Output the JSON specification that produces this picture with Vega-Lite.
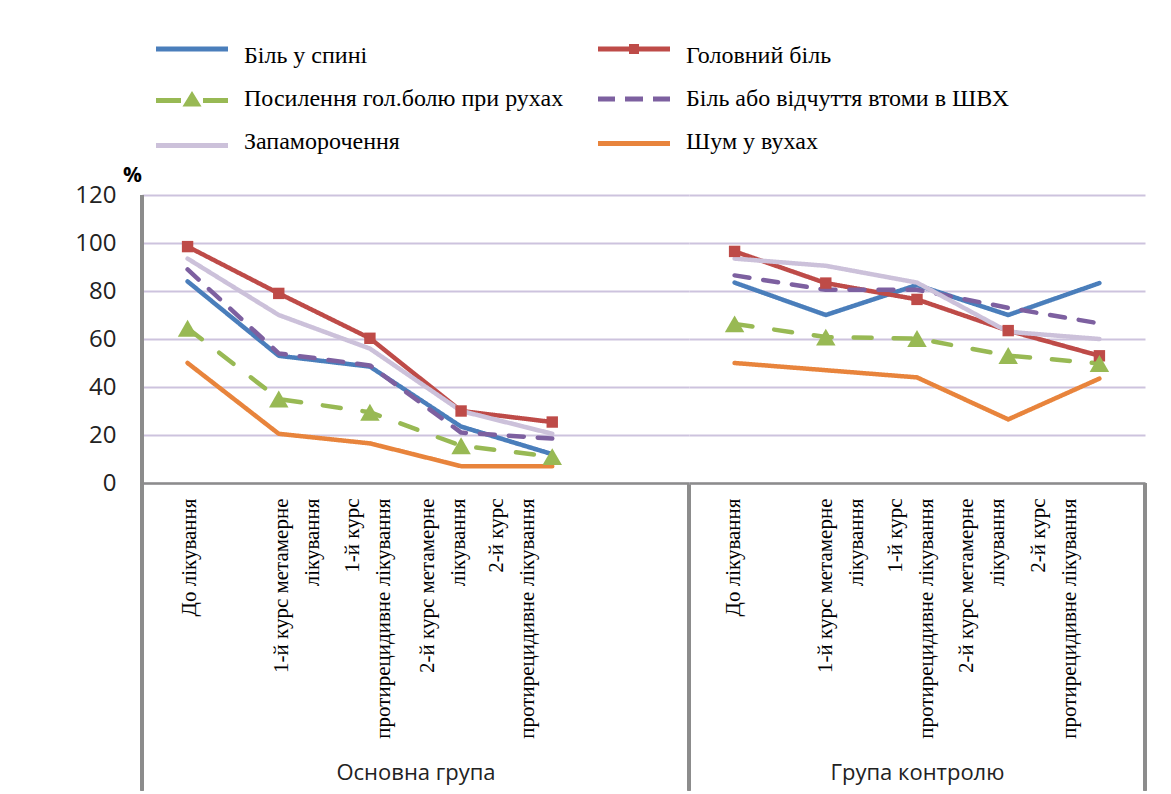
{
  "$schema": "https://vega.github.io/schema/vega-lite/v6.json",
  "padding": {"left": 74, "top": 44, "right": 10, "bottom": 0},
  "spacing": 0,
  "bounds": "flush",
  "config": {
    "view": {"stroke": null},
    "legend": {
      "orient": "none", "legendX": 38, "legendY": -151, "columns": 2, "direction": "horizontal",
      "labelFont": "Liberation Serif", "labelFontSize": 24, "labelFontWeight": "normal", "labelColor": "#000", "labelLimit": 600, "labelOffset": 40,
      "symbolSize": 400, "symbolStrokeWidth": 0, "symbolOpacity": 1, "rowPadding": 19, "columnPadding": 34, "padding": 0
    }
  },
  "datasets": {
    "d": [
      {"group": "Основна група", "series": "Біль у спині", "stage": "До лікування", "value": 84},
      {"group": "Основна група", "series": "Біль у спині", "stage": "1-й курс метамерне|лікування", "value": 53},
      {"group": "Основна група", "series": "Біль у спині", "stage": "1-й курс|протирецидивне лікування", "value": 48.5},
      {"group": "Основна група", "series": "Біль у спині", "stage": "2-й курс метамерне|лікування", "value": 23.5},
      {"group": "Основна група", "series": "Біль у спині", "stage": "2-й курс|протирецидивне лікування", "value": 12},
      {"group": "Основна група", "series": "Головний біль", "stage": "До лікування", "value": 98.5},
      {"group": "Основна група", "series": "Головний біль", "stage": "1-й курс метамерне|лікування", "value": 79},
      {"group": "Основна група", "series": "Головний біль", "stage": "1-й курс|протирецидивне лікування", "value": 60.3},
      {"group": "Основна група", "series": "Головний біль", "stage": "2-й курс метамерне|лікування", "value": 30},
      {"group": "Основна група", "series": "Головний біль", "stage": "2-й курс|протирецидивне лікування", "value": 25.4},
      {"group": "Основна група", "series": "Посилення гол.болю при рухах", "stage": "До лікування", "value": 64.5},
      {"group": "Основна група", "series": "Посилення гол.болю при рухах", "stage": "1-й курс метамерне|лікування", "value": 35},
      {"group": "Основна група", "series": "Посилення гол.болю при рухах", "stage": "1-й курс|протирецидивне лікування", "value": 29.5},
      {"group": "Основна група", "series": "Посилення гол.болю при рухах", "stage": "2-й курс метамерне|лікування", "value": 15.5},
      {"group": "Основна група", "series": "Посилення гол.болю при рухах", "stage": "2-й курс|протирецидивне лікування", "value": 11},
      {"group": "Основна група", "series": "Біль або відчуття втоми в ШВХ", "stage": "До лікування", "value": 89},
      {"group": "Основна група", "series": "Біль або відчуття втоми в ШВХ", "stage": "1-й курс метамерне|лікування", "value": 54},
      {"group": "Основна група", "series": "Біль або відчуття втоми в ШВХ", "stage": "1-й курс|протирецидивне лікування", "value": 49},
      {"group": "Основна група", "series": "Біль або відчуття втоми в ШВХ", "stage": "2-й курс метамерне|лікування", "value": 21},
      {"group": "Основна група", "series": "Біль або відчуття втоми в ШВХ", "stage": "2-й курс|протирецидивне лікування", "value": 18.5},
      {"group": "Основна група", "series": "Запаморочення", "stage": "До лікування", "value": 93.5},
      {"group": "Основна група", "series": "Запаморочення", "stage": "1-й курс метамерне|лікування", "value": 70},
      {"group": "Основна група", "series": "Запаморочення", "stage": "1-й курс|протирецидивне лікування", "value": 56},
      {"group": "Основна група", "series": "Запаморочення", "stage": "2-й курс метамерне|лікування", "value": 30},
      {"group": "Основна група", "series": "Запаморочення", "stage": "2-й курс|протирецидивне лікування", "value": 20.5},
      {"group": "Основна група", "series": "Шум у вухах", "stage": "До лікування", "value": 50},
      {"group": "Основна група", "series": "Шум у вухах", "stage": "1-й курс метамерне|лікування", "value": 20.5},
      {"group": "Основна група", "series": "Шум у вухах", "stage": "1-й курс|протирецидивне лікування", "value": 16.5},
      {"group": "Основна група", "series": "Шум у вухах", "stage": "2-й курс метамерне|лікування", "value": 7},
      {"group": "Основна група", "series": "Шум у вухах", "stage": "2-й курс|протирецидивне лікування", "value": 7},
      {"group": "Група контролю", "series": "Біль у спині", "stage": "До лікування", "value": 83.5},
      {"group": "Група контролю", "series": "Біль у спині", "stage": "1-й курс метамерне|лікування", "value": 70},
      {"group": "Група контролю", "series": "Біль у спині", "stage": "1-й курс|протирецидивне лікування", "value": 82.5},
      {"group": "Група контролю", "series": "Біль у спині", "stage": "2-й курс метамерне|лікування", "value": 70},
      {"group": "Група контролю", "series": "Біль у спині", "stage": "2-й курс|протирецидивне лікування", "value": 83.3},
      {"group": "Група контролю", "series": "Головний біль", "stage": "До лікування", "value": 96.5},
      {"group": "Група контролю", "series": "Головний біль", "stage": "1-й курс метамерне|лікування", "value": 83.3},
      {"group": "Група контролю", "series": "Головний біль", "stage": "1-й курс|протирецидивне лікування", "value": 76.5},
      {"group": "Група контролю", "series": "Головний біль", "stage": "2-й курс метамерне|лікування", "value": 63.5},
      {"group": "Група контролю", "series": "Головний біль", "stage": "2-й курс|протирецидивне лікування", "value": 53},
      {"group": "Група контролю", "series": "Посилення гол.болю при рухах", "stage": "До лікування", "value": 66.3},
      {"group": "Група контролю", "series": "Посилення гол.болю при рухах", "stage": "1-й курс метамерне|лікування", "value": 60.8},
      {"group": "Група контролю", "series": "Посилення гол.болю при рухах", "stage": "1-й курс|протирецидивне лікування", "value": 60.2},
      {"group": "Група контролю", "series": "Посилення гол.болю при рухах", "stage": "2-й курс метамерне|лікування", "value": 53.1},
      {"group": "Група контролю", "series": "Посилення гол.болю при рухах", "stage": "2-й курс|протирецидивне лікування", "value": 49.8},
      {"group": "Група контролю", "series": "Біль або відчуття втоми в ШВХ", "stage": "До лікування", "value": 86.5},
      {"group": "Група контролю", "series": "Біль або відчуття втоми в ШВХ", "stage": "1-й курс метамерне|лікування", "value": 80.5},
      {"group": "Група контролю", "series": "Біль або відчуття втоми в ШВХ", "stage": "1-й курс|протирецидивне лікування", "value": 80.5},
      {"group": "Група контролю", "series": "Біль або відчуття втоми в ШВХ", "stage": "2-й курс метамерне|лікування", "value": 73},
      {"group": "Група контролю", "series": "Біль або відчуття втоми в ШВХ", "stage": "2-й курс|протирецидивне лікування", "value": 66.5},
      {"group": "Група контролю", "series": "Запаморочення", "stage": "До лікування", "value": 93.5},
      {"group": "Група контролю", "series": "Запаморочення", "stage": "1-й курс метамерне|лікування", "value": 90.5},
      {"group": "Група контролю", "series": "Запаморочення", "stage": "1-й курс|протирецидивне лікування", "value": 83.5},
      {"group": "Група контролю", "series": "Запаморочення", "stage": "2-й курс метамерне|лікування", "value": 63},
      {"group": "Група контролю", "series": "Запаморочення", "stage": "2-й курс|протирецидивне лікування", "value": 60},
      {"group": "Група контролю", "series": "Шум у вухах", "stage": "До лікування", "value": 50},
      {"group": "Група контролю", "series": "Шум у вухах", "stage": "1-й курс метамерне|лікування", "value": 47},
      {"group": "Група контролю", "series": "Шум у вухах", "stage": "1-й курс|протирецидивне лікування", "value": 44},
      {"group": "Група контролю", "series": "Шум у вухах", "stage": "2-й курс метамерне|лікування", "value": 26.5},
      {"group": "Група контролю", "series": "Шум у вухах", "stage": "2-й курс|протирецидивне лікування", "value": 43.5}
    ]
  },
  "hconcat": [
    {
      "width": 547,
      "height": 288,
      "data": {"name": "d"},
      "transform": [{"filter": "datum.group == 'Основна група'"}],
      "encoding": {
        "x": {
          "field": "stage", "type": "nominal",
          "sort": ["До лікування", "1-й курс метамерне|лікування", "1-й курс|протирецидивне лікування", "2-й курс метамерне|лікування", "2-й курс|протирецидивне лікування", " "],
          "scale": {"type": "band", "domain": ["До лікування", "1-й курс метамерне|лікування", "1-й курс|протирецидивне лікування", "2-й курс метамерне|лікування", "2-й курс|протирецидивне лікування", " "], "paddingInner": 0, "paddingOuter": 0},
          "axis": {
            "title": "Основна група", "titleFont": "Open Sans", "titleFontSize": 22, "titleFontWeight": "normal", "titleColor": "#222",
            "titleY": 289, "titleBaseline": "middle",
            "labelExpr": "split(datum.value, '|')", "labelAngle": -90, "labelFont": "Liberation Serif", "labelFontSize": 21, "labelColor": "#000",
            "labelLineHeight": 31, "labelPadding": 15, "labelLimit": 400, "labelOverlap": false,
            "labelOffset": {"condition": [
              {"test": "datum.value == '1-й курс метамерне|лікування'", "value": 3},
              {"test": "datum.value == '1-й курс|протирецидивне лікування'", "value": -17},
              {"test": "datum.value == '2-й курс метамерне|лікування'", "value": -33},
              {"test": "datum.value == '2-й курс|протирецидивне лікування'", "value": -55}
            ], "value": 2},
            "ticks": false, "tickSize": 0, "domain": true, "domainColor": "#8c8c8c", "domainWidth": 2.5, "grid": false
          }
        },
        "y": {
          "field": "value", "type": "quantitative",
          "scale": {"domain": [0, 120], "nice": false, "zero": false},
          "axis": {
            "title": "%", "titleAngle": 0, "titleX": -10, "titleY": -14, "titleAlign": "center", "titleBaseline": "alphabetic",
            "titleFont": "Open Sans", "titleFontSize": 21, "titleFontWeight": "bold", "titleColor": "#000",
            "values": [0, 20, 40, 60, 80, 100, 120], "labelFont": "Open Sans", "labelFontSize": 24, "labelColor": "#222", "labelPadding": 26,
            "ticks": false, "domain": false, "grid": true, "gridColor": "#cdc3de", "gridWidth": 2
          }
        },
        "color": {
          "field": "series", "type": "nominal", "legend": null,
          "scale": {
            "domain": ["Біль у спині", "Головний біль", "Посилення гол.болю при рухах", "Біль або відчуття втоми в ШВХ", "Запаморочення", "Шум у вухах"],
            "range": ["#4A7EBB", "#BE4B48", "#98B954", "#7D60A0", "#CCC1DA", "#E8843C"]
          }
        }
      },
      "layer": [
        {
          "mark": {"type": "point", "filled": true, "opacity": 0, "strokeWidth": 0},
          "encoding": {
            "color": {
              "field": "series", "type": "nominal", "legend": {"title": null, "symbolOpacity": 1},
              "scale": {
                "domain": ["Біль у спині", "Головний біль", "Посилення гол.болю при рухах", "Біль або відчуття втоми в ШВХ", "Запаморочення", "Шум у вухах"],
                "range": ["#4A7EBB", "#BE4B48", "#98B954", "#7D60A0", "#CCC1DA", "#E8843C"]
              }
            },
            "shape": {
              "field": "series", "type": "nominal", "legend": {"title": null, "symbolOpacity": 1},
              "scale": {
                "domain": ["Біль у спині", "Головний біль", "Посилення гол.болю при рухах", "Біль або відчуття втоми в ШВХ", "Запаморочення", "Шум у вухах"],
                "range": [
                  "M-3.6,-0.95L3.6,-0.95L3.6,-0.45L-3.6,-0.45Z",
                  "M-3.6,-0.95L3.6,-0.95L3.6,-0.45L-3.6,-0.45ZM-0.5,-1.2L0.5,-1.2L0.5,-0.2L-0.5,-0.2Z",
                  "M-3.6,-0.1L-1.1,-0.1L-1.1,0.4L-3.6,0.4ZM1.1,-0.1L3.6,-0.1L3.6,0.4L1.1,0.4ZM0,-0.8L0.95,0.75L-0.95,0.75Z",
                  "M-3.6,-0.25L-1.9,-0.25L-1.9,0.25L-3.6,0.25ZM-0.9,-0.25L0.9,-0.25L0.9,0.25L-0.9,0.25ZM1.9,-0.25L3.6,-0.25L3.6,0.25L1.9,0.25Z",
                  "M-3.6,0.1L3.6,0.1L3.6,0.6L-3.6,0.6Z",
                  "M-3.6,-0.1L3.6,-0.1L3.6,0.4L-3.6,0.4Z"
                ]
              }
            }
          }
        },
        {
          "mark": {"type": "rule", "color": "#8c8c8c", "strokeWidth": 2.5},
          "encoding": {
            "x": {"datum": "До лікування", "type": "nominal", "bandPosition": 0},
            "y": {"datum": 120, "type": "quantitative"},
            "y2": {"datum": -128},
            "color": {"value": "#8c8c8c"}
          }
        },
        {
          "mark": {"type": "rule", "color": "#8c8c8c", "strokeWidth": 2.5},
          "encoding": {
            "x": {"datum": " ", "type": "nominal", "bandPosition": 1},
            "y": {"datum": 0, "type": "quantitative"},
            "y2": {"datum": -128},
            "color": {"value": "#8c8c8c"}
          }
        },
        {
          "mark": {"type": "line", "strokeWidth": 4.5, "strokeCap": "round", "strokeJoin": "round"},
          "encoding": {
            "strokeDash": {
              "field": "series", "type": "nominal", "legend": null,
              "scale": {
                "domain": ["Біль у спині", "Головний біль", "Посилення гол.болю при рухах", "Біль або відчуття втоми в ШВХ", "Запаморочення", "Шум у вухах"],
                "range": [[1, 0], [1, 0], [18, 22], [15, 14], [1, 0], [1, 0]]
              }
            }
          }
        },
        {
          "transform": [{"filter": "datum.series == 'Головний біль'"}],
          "mark": {"type": "point", "shape": "square", "filled": true, "opacity": 1, "size": 130, "strokeWidth": 0}
        },
        {
          "transform": [{"filter": "datum.series == 'Посилення гол.болю при рухах'"}],
          "mark": {"type": "point", "shape": "triangle-up", "filled": true, "opacity": 1, "size": 380, "strokeWidth": 0}
        }
      ]
    },
    {
      "width": 456,
      "height": 288,
      "data": {"name": "d"},
      "transform": [{"filter": "datum.group == 'Група контролю'"}],
      "encoding": {
        "x": {
          "field": "stage", "type": "nominal",
          "sort": ["До лікування", "1-й курс метамерне|лікування", "1-й курс|протирецидивне лікування", "2-й курс метамерне|лікування", "2-й курс|протирецидивне лікування"],
          "scale": {"type": "band", "domain": ["До лікування", "1-й курс метамерне|лікування", "1-й курс|протирецидивне лікування", "2-й курс метамерне|лікування", "2-й курс|протирецидивне лікування"], "paddingInner": 0, "paddingOuter": 0},
          "axis": {
            "title": "Група контролю", "titleFont": "Open Sans", "titleFontSize": 22, "titleFontWeight": "normal", "titleColor": "#222",
            "titleY": 289, "titleBaseline": "middle",
            "labelExpr": "split(datum.value, '|')", "labelAngle": -90, "labelFont": "Liberation Serif", "labelFontSize": 21, "labelColor": "#000",
            "labelLineHeight": 31, "labelPadding": 15, "labelLimit": 400, "labelOverlap": false,
            "labelOffset": {"condition": [
              {"test": "datum.value == '1-й курс метамерне|лікування'", "value": 0},
              {"test": "datum.value == '1-й курс|протирецидивне лікування'", "value": -21},
              {"test": "datum.value == '2-й курс метамерне|лікування'", "value": -41},
              {"test": "datum.value == '2-й курс|протирецидивне лікування'", "value": -60}
            ], "value": -1},
            "ticks": false, "tickSize": 0, "domain": true, "domainColor": "#8c8c8c", "domainWidth": 2.5, "grid": false
          }
        },
        "y": {
          "field": "value", "type": "quantitative",
          "scale": {"domain": [0, 120], "nice": false, "zero": false},
          "axis": {
            "title": null, "values": [0, 20, 40, 60, 80, 100, 120], "labels": false,
            "ticks": false, "domain": false, "grid": true, "gridColor": "#cdc3de", "gridWidth": 2
          }
        },
        "color": {
          "field": "series", "type": "nominal", "legend": null,
          "scale": {
            "domain": ["Біль у спині", "Головний біль", "Посилення гол.болю при рухах", "Біль або відчуття втоми в ШВХ", "Запаморочення", "Шум у вухах"],
            "range": ["#4A7EBB", "#BE4B48", "#98B954", "#7D60A0", "#CCC1DA", "#E8843C"]
          }
        }
      },
      "layer": [
        {
          "mark": {"type": "rule", "color": "#8c8c8c", "strokeWidth": 2.5},
          "encoding": {
            "x": {"datum": "2-й курс|протирецидивне лікування", "type": "nominal", "bandPosition": 1},
            "y": {"datum": 0, "type": "quantitative"},
            "y2": {"datum": -128},
            "color": {"value": "#8c8c8c"}
          }
        },
        {
          "mark": {"type": "line", "strokeWidth": 4.5, "strokeCap": "round", "strokeJoin": "round"},
          "encoding": {
            "strokeDash": {
              "field": "series", "type": "nominal", "legend": null,
              "scale": {
                "domain": ["Біль у спині", "Головний біль", "Посилення гол.болю при рухах", "Біль або відчуття втоми в ШВХ", "Запаморочення", "Шум у вухах"],
                "range": [[1, 0], [1, 0], [18, 22], [15, 14], [1, 0], [1, 0]]
              }
            }
          }
        },
        {
          "transform": [{"filter": "datum.series == 'Головний біль'"}],
          "mark": {"type": "point", "shape": "square", "filled": true, "opacity": 1, "size": 130, "strokeWidth": 0}
        },
        {
          "transform": [{"filter": "datum.series == 'Посилення гол.болю при рухах'"}],
          "mark": {"type": "point", "shape": "triangle-up", "filled": true, "opacity": 1, "size": 380, "strokeWidth": 0}
        }
      ]
    }
  ]
}
